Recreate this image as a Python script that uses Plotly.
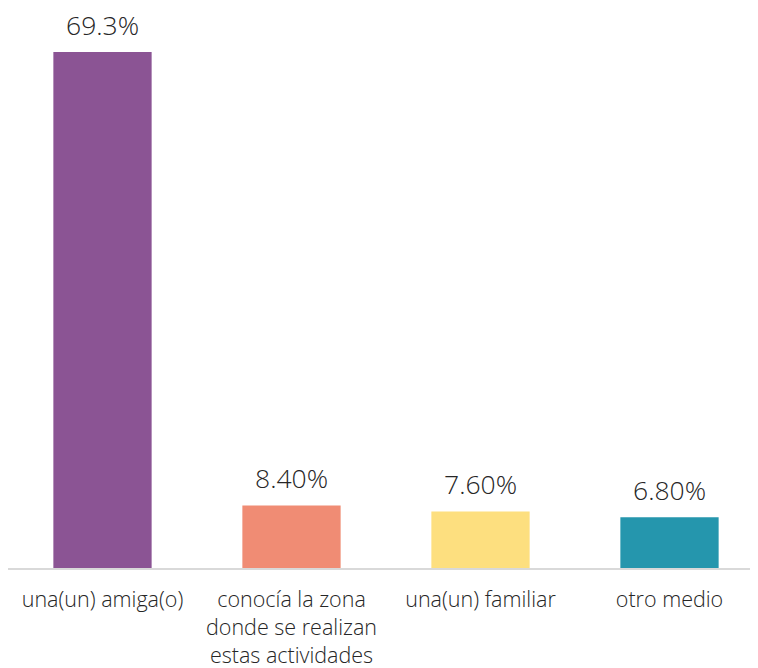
import plotly.graph_objects as go

categories = ["una(un) amiga(o)", "conocía la zona<br>donde se realizan<br>estas actividades", "una(un) familiar", "otro medio"]
values = [69.3, 8.4, 7.6, 6.8]
labels = ["69.3%", "8.40%", "7.60%", "6.80%"]
colors = ["#8B5494", "#F08C74", "#FDDF7F", "#2596AD"]

fig = go.Figure()
fig.add_trace(go.Bar(x=categories, y=values, marker=dict(color=colors, line=dict(width=0)),
                     hoverinfo="skip"))
for c, v, t in zip(categories, values, labels):
    fig.add_annotation(x=c, y=v, text=t, showarrow=False, yanchor="bottom", yshift=8,
                       borderpad=0,
                       font=dict(family="Open Sans", size=26.5, color="#262626", weight=300))

fig.update_layout(
    width=758, height=660,
    margin=dict(l=0, r=2, t=12, b=100, autoexpand=False),
    paper_bgcolor="white", plot_bgcolor="white",
    bargap=0.48, showlegend=False,
    xaxis=dict(showline=True, linecolor="#D9D9D9", linewidth=2, ticks="", automargin=False,
               ticklabelstandoff=11,
               tickfont=dict(family="Open Sans", size=21.5, color="#262626", weight=300), showgrid=False),
    yaxis=dict(range=[0, 73.6], visible=False, showgrid=False, zeroline=False, automargin=False),
)
fig.write_html("out.html")
